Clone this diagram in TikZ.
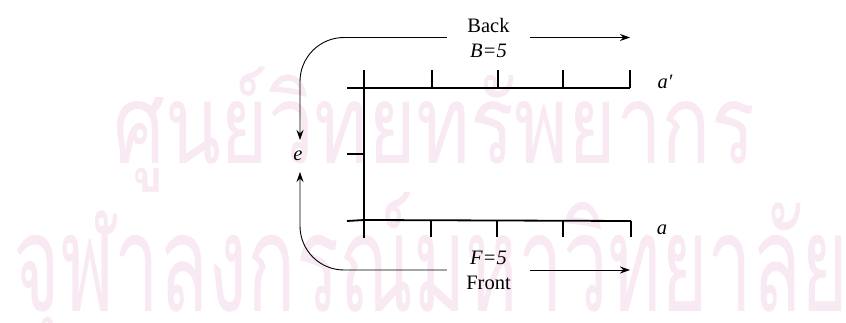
\documentclass[tikz,border=0pt]{standalone}
\usepackage{fontspec}
\setmainfont{Liberation Serif}
\newfontfamily\thaifont[Script=Thai]{Loma}
\usetikzlibrary{arrows.meta}
\definecolor{wmark}{RGB}{248,233,243}
\begin{document}
\begin{tikzpicture}[x=1pt,y=-1pt,
  axis/.style={line width=1.8pt},
  flow/.style={line width=0.9pt,-{Stealth[length=10pt,width=7pt]}},
  lbl/.style={font=\fontsize{20.5}{25}\selectfont, inner sep=0pt},
  wm/.style={text=wmark, inner sep=0pt}]
\useasboundingbox (0,0) rectangle (846,323);
% watermark
\node[wm, anchor=base west] (wmtop) at (113,164) {\resizebox{642pt}{!}{\scalebox{1}[1.35]{\thaifont ศูนย์วิทยทรัพยากร}}};
\node[wm, anchor=base west] (wmbot) at (13,311) {\resizebox{835pt}{!}{\scalebox{1}[1.7]{\thaifont จุฬาลงกรณ์มหาวิทยาลัย}}};
% axis coordinates
\coordinate (vtop) at (364,70);
\coordinate (vbot) at (364,238);
\coordinate (tl) at (347,88);
\coordinate (tr) at (630,88);
\coordinate (bl) at (347,221);
\coordinate (bm) at (364,220);
\coordinate (br) at (631,221);
\coordinate (el) at (347,154);
\coordinate (em) at (364,154);
\draw[axis] (vtop) -- (vbot);
\draw[axis] (tl) -- (tr);
\draw[axis] (bl) -- (bm) -- (br);
\draw[axis] (el) -- (em);
\foreach \x in {432,498,563,630} \draw[axis] (\x,70) -- (\x,88);
\foreach \x in {431,497,563,631} \draw[axis] (\x,221) -- (\x,237);
% labels
\node[lbl] (ap) at (665,82) {\itshape a′};
\node[lbl] (a) at (662,230) {\itshape a};
\node[lbl] (e) at (298,156) {\itshape e};
\node[lbl, align=center, minimum width=83pt] (back) at (488.5,37.5) {Back\\ \itshape B=5};
\node[lbl, align=center, minimum width=83pt] (front) at (488.5,270) {\itshape F=5\\ Front};
\coordinate (backend) at (630,37.5);
\coordinate (frontend) at (630,270);
\coordinate (etop) at (300,140);
\coordinate (ebot) at (300,172);
% flows
\draw[flow] (back.east) -- (backend);
\draw[flow, rounded corners=44pt] (back.west) -| (etop);
\draw[flow] (front.east) -- (frontend);
\draw[flow, rounded corners=44pt] (front.west) -| (ebot);
\end{tikzpicture}
\end{document}
